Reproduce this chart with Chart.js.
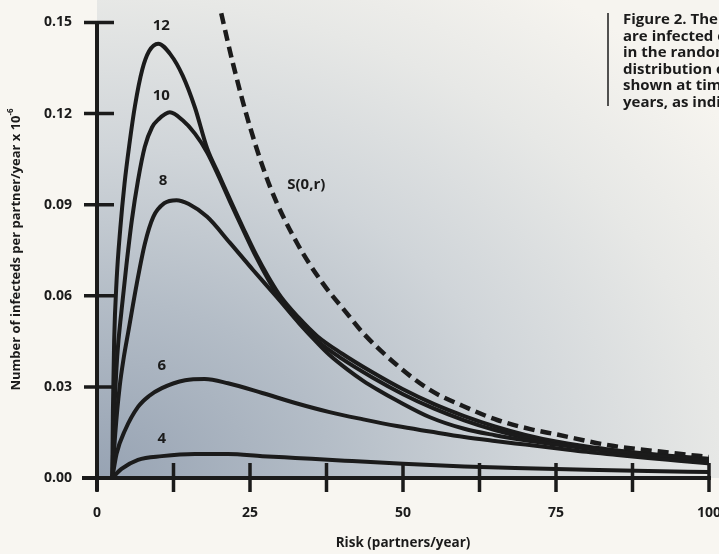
<!DOCTYPE html>
<html>
<head>
<meta charset="utf-8">
<script src="https://cdn.jsdelivr.net/npm/chart.js@4.4.0/dist/chart.umd.min.js"></script>
<style>
  html, body { margin: 0; padding: 0; background: #f8f6f1; }
  canvas { display: block; }
</style>
</head>
<body>
<canvas id="fig" width="719" height="554"></canvas>
<script>
// values: risk (partners/year) and infecteds per partner/year x 10^-6
const risk4 = [2.5, 4, 6.7, 10.6, 16, 21.4, 27, 32.4, 40.5, 50, 60, 70, 80, 90, 100];
const val4 = [0, 0.003, 0.006, 0.0072, 0.0079, 0.0079, 0.0072, 0.0066, 0.0057, 0.0047, 0.0038, 0.0032, 0.0027, 0.0023, 0.002];

const risk6 = [2.5, 3.2, 4.6, 6.7, 8.5, 10.6, 14.4, 17.6, 21.4, 27, 32.4, 38, 43.5, 49, 54.4, 60, 65, 70, 75, 80, 85, 90, 95, 100];
const val6 = [0, 0.008, 0.0158, 0.0234, 0.027, 0.0296, 0.0322, 0.0326, 0.0312, 0.028, 0.0247, 0.0217, 0.0193, 0.0171, 0.0153, 0.0135, 0.0122, 0.011, 0.0098, 0.0086, 0.0076, 0.0066, 0.0057, 0.0048];

const risk8 = [2.5, 3.0, 3.7, 4.4, 5.1, 6.5, 7.8, 9.2, 11, 13, 15, 18, 21.7, 25.5, 29.4, 33, 36, 38, 41, 43.5, 46, 49, 54.4, 60, 65, 70, 75, 80, 85, 90, 95, 100];
const val8 = [0, 0.015, 0.03, 0.04, 0.048, 0.064, 0.077, 0.086, 0.0905, 0.0915, 0.0902, 0.086, 0.0775, 0.0685, 0.0595, 0.051, 0.0445, 0.0405, 0.0356, 0.032, 0.0289, 0.0255, 0.02, 0.0162, 0.0141, 0.0124, 0.011, 0.0097, 0.0086, 0.0075, 0.0065, 0.0056];

const risk10 = [2.5, 2.8, 3.3, 4.0, 4.8, 5.7, 6.7, 7.8, 9, 10, 11.9, 14, 16, 18, 20, 22, 24, 26, 28, 30, 33, 36, 40, 45, 50, 55, 60, 65, 70, 75, 80, 85, 90, 95, 100];
const val10 = [0, 0.02, 0.04, 0.055, 0.07, 0.085, 0.098, 0.109, 0.1155, 0.118, 0.1204, 0.1178, 0.1134, 0.1072, 0.0988, 0.0898, 0.0812, 0.0728, 0.0653, 0.0588, 0.0513, 0.0452, 0.0393, 0.0331, 0.0276, 0.0229, 0.019, 0.0158, 0.0133, 0.0114, 0.0099, 0.0087, 0.0077, 0.0068, 0.006];

const risk12 = [2.5, 2.6, 2.8, 3.2, 3.8, 4.5, 5.3, 6.2, 7.4, 8.5, 10, 12, 14, 16, 18, 20, 22, 24, 26, 28, 30, 33, 36, 40, 45, 50, 55, 60, 65, 70, 75, 80, 85, 90, 95, 100];
const val12 = [0, 0.022, 0.045, 0.065, 0.082, 0.097, 0.11, 0.1225, 0.1345, 0.1405, 0.143, 0.1395, 0.1325, 0.122, 0.1085, 0.0995, 0.0905, 0.0818, 0.0735, 0.0662, 0.0598, 0.0527, 0.0467, 0.041, 0.0348, 0.0292, 0.0244, 0.0204, 0.017, 0.0142, 0.012, 0.0104, 0.0091, 0.008, 0.0071, 0.0063];

const riskS = [20.3, 22.2, 25, 28.3, 32.7, 36.9, 40.8, 43.5, 49, 54.4, 59.8, 65.4, 70.8, 75.2, 83.3, 94.2, 100];
const valS = [0.153, 0.1366, 0.1156, 0.0958, 0.0773, 0.0641, 0.0543, 0.0477, 0.0372, 0.029, 0.0237, 0.0191, 0.0161, 0.0143, 0.0109, 0.0082, 0.0069];

const xTicks = [0, 12.5, 25, 37.5, 50, 62.5, 75, 87.5, 100];
const xTickLabels = ["0", "", "25", "", "50", "", "75", "", "100"];
const yTicks = [0, 0.03, 0.06, 0.09, 0.12, 0.15];
const yTickLabels = ["0.00", "0.03", "0.06", "0.09", "0.12", "0.15"];

const curveNames = ["4", "6", "8", "10", "12", "S(0,r)"];
const curveNameX = [10.6, 10.6, 10.8, 10.5, 10.5, 34.2];
const curveNameY = [0.013, 0.037, 0.098, 0.126, 0.149, 0.0965];

const xTitle = "Risk (partners/year)";
const yTitle = "Number of infecteds per partner/year x 10";
const caption = [
  "Figure 2. The distribution of people who",
  "are infected over time",
  "in the random mixing model. The",
  "distribution of susceptibles S(0,r) is",
  "shown at times t = 4, 6, 8, 10 and 12",
  "years, as indicated."
];

function pts(xs, ys) {
  return xs.map((x, i) => ({ x: x, y: ys[i] }));
}

const INK = "#1b1b1b";
const FONT = "'Open Sans', 'DejaVu Sans', sans-serif";

function curve(label, xs, ys, dashed) {
  return {
    label: label,
    data: pts(xs, ys),
    borderColor: INK,
    borderWidth: dashed ? 4.5 : 4,
    borderDash: dashed ? [11, 6] : [],
    pointRadius: 0,
    fill: false,
    cubicInterpolationMode: "monotone",
    borderCapStyle: "butt",
    borderJoinStyle: "round"
  };
}

const decor = {
  id: "decor",
  beforeDraw(chart) {
    const ctx = chart.ctx;
    const a = chart.chartArea;
    ctx.save();
    ctx.fillStyle = "#f8f6f1";
    ctx.fillRect(0, 0, chart.width, chart.height);
    // shaded panel, darker toward the bottom-left corner
    ctx.beginPath();
    ctx.rect(a.left, 0, chart.width - a.left, a.bottom);
    ctx.clip();
    ctx.translate(a.left, a.bottom);
    ctx.scale(1.3, 1);
    const g = ctx.createRadialGradient(0, 0, 0, 0, 0, 600);
    g.addColorStop(0, "#97a3b3");
    g.addColorStop(0.3, "#b4bdc7");
    g.addColorStop(0.55, "#d0d5d9");
    g.addColorStop(0.8, "#e7e8e6");
    g.addColorStop(1, "#f6f4ef");
    ctx.fillStyle = g;
    ctx.fillRect(0, -a.bottom - 10, chart.width, a.bottom + 20);
    ctx.restore();
  },
  afterDatasetsDraw(chart) {
    const ctx = chart.ctx;
    const xs = chart.scales.x;
    const ys = chart.scales.y;
    const x0 = xs.getPixelForValue(0);
    const y0 = ys.getPixelForValue(0);
    ctx.save();
    ctx.strokeStyle = INK;
    ctx.lineCap = "butt";

    // axis lines
    ctx.lineWidth = 4;
    ctx.beginPath();
    ctx.moveTo(x0, ys.getPixelForValue(0.15) - 1);
    ctx.lineTo(x0, y0 + 13);
    ctx.moveTo(x0 - 15, y0);
    ctx.lineTo(xs.getPixelForValue(100) + 2, y0);
    ctx.stroke();

    // tick marks crossing the axes
    ctx.lineWidth = 3.5;
    ctx.beginPath();
    xTicks.forEach(v => {
      const px = xs.getPixelForValue(v);
      ctx.moveTo(px, y0 - 15);
      ctx.lineTo(px, y0 + 14);
    });
    yTicks.forEach(v => {
      if (v === 0) return;
      const py = ys.getPixelForValue(v);
      ctx.moveTo(x0 - 13, py);
      ctx.lineTo(x0 + 17, py);
    });
    ctx.stroke();

    ctx.fillStyle = INK;
    ctx.font = "bold 14px " + FONT;
    ctx.textAlign = "center";
    ctx.textBaseline = "middle";
    xTicks.forEach((v, i) => {
      if (xTickLabels[i]) ctx.fillText(xTickLabels[i], xs.getPixelForValue(v), y0 + 35);
    });
    ctx.textAlign = "right";
    yTicks.forEach((v, i) => {
      ctx.fillText(yTickLabels[i], x0 - 25, ys.getPixelForValue(v));
    });

    // curve names
    ctx.font = "bold 15px " + FONT;
    ctx.textAlign = "center";
    curveNames.forEach((t, i) => {
      ctx.fillText(t, xs.getPixelForValue(curveNameX[i]), ys.getPixelForValue(curveNameY[i]));
    });

    // axis titles
    ctx.font = "bold 13.5px " + FONT;
    ctx.fillText(xTitle, xs.getPixelForValue(50), y0 + 65);
    ctx.save();
    ctx.translate(16, 247);
    ctx.rotate(-Math.PI / 2);
    ctx.font = "bold 13px " + FONT;
    const w = ctx.measureText(yTitle).width;
    ctx.textAlign = "left";
    ctx.fillText(yTitle, -w / 2 - 6, 0);
    ctx.font = "bold 8px " + FONT;
    ctx.fillText("-6", w / 2 - 6, -5);
    ctx.restore();

    // caption at the right edge
    ctx.lineWidth = 1.5;
    ctx.beginPath();
    ctx.moveTo(608, 13);
    ctx.lineTo(608, 106);
    ctx.stroke();
    ctx.font = "bold 15px " + FONT;
    ctx.textAlign = "left";
    caption.forEach((line, i) => {
      ctx.fillText(line, 623, 20 + i * 16.5);
    });
    ctx.restore();
  }
};

new Chart(document.getElementById("fig"), {
  type: "line",
  data: {
    datasets: [
      curve("4", risk4, val4, false),
      curve("6", risk6, val6, false),
      curve("8", risk8, val8, false),
      curve("10", risk10, val10, false),
      curve("12", risk12, val12, false),
      curve("S(0,r)", riskS, valS, true)
    ]
  },
  options: {
    responsive: false,
    animation: false,
    devicePixelRatio: 1,
    layout: { padding: { left: 97, right: 10, top: 0, bottom: 76 } },
    scales: {
      x: { type: "linear", min: 0, max: 100, display: false },
      y: { type: "linear", min: 0, max: 0.1574, display: false }
    },
    plugins: {
      legend: { display: false },
      tooltip: { enabled: false }
    }
  },
  plugins: [decor]
});
</script>
</body>
</html>
